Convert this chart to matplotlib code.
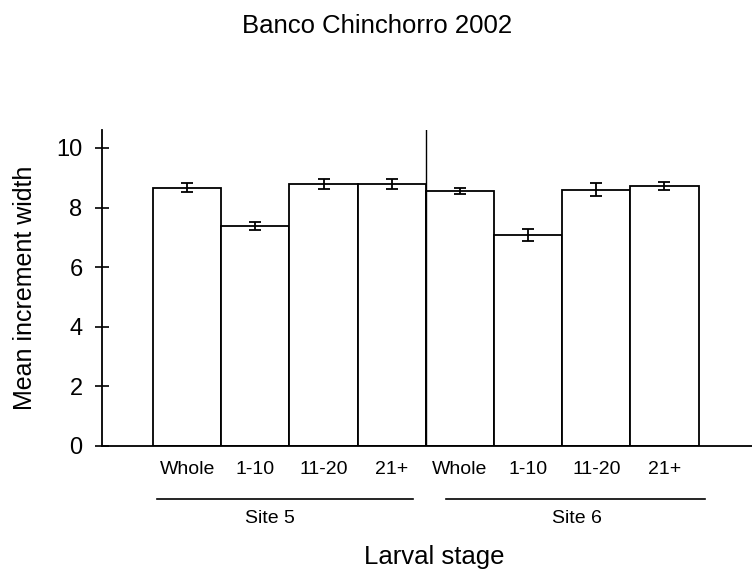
import matplotlib
matplotlib.use("Agg")
import matplotlib.pyplot as plt

plt.rcParams['font.family'] = ['Liberation Sans', 'DejaVu Sans']

# data
stages = ["Whole", "1-10", "11-20", "21+", "Whole", "1-10", "11-20", "21+"]
sites = ["Site 5", "Site 6"]
means = [8.66, 7.38, 8.78, 8.78, 8.56, 7.08, 8.60, 8.72]
errs = [0.15, 0.14, 0.17, 0.17, 0.11, 0.21, 0.21, 0.13]

fig = plt.figure(figsize=(7.52, 5.83), dpi=100)
ax = fig.add_axes([0.1356, 0.235, 0.864, 0.542])

x = list(range(len(means)))
ax.bar(x, means, width=1.0, color="white", edgecolor="black", linewidth=1.3)
ax.errorbar(x, means, yerr=errs, fmt="none", ecolor="black", elinewidth=1.3,
            capsize=4.5, capthick=1.3)

# divider between the two sites
ax.axvline(3.5, color="black", linewidth=1.0)

ax.set_xlim(-1.25, 8.28)
ax.set_ylim(0, 10.6)
ax.set_yticks([0, 2, 4, 6, 8, 10])
ax.set_xticks(x)
ax.set_xticklabels(stages, fontsize=14)
ax.tick_params(axis="x", length=0, pad=11)
ax.tick_params(axis="y", direction="inout", length=10, width=1.2, labelsize=17, pad=9)
for s in ["top", "right"]:
    ax.spines[s].set_visible(False)
ax.spines["left"].set_linewidth(1.3)
ax.spines["bottom"].set_linewidth(1.3)

ax.set_ylabel("Mean increment width", fontsize=18, labelpad=14)

# group underlines and labels
line_spans = [(-0.44, 3.31), (3.79, 7.59)]
label_pos = [1.22, 5.71]
for (lo, hi), xc, name in zip(line_spans, label_pos, sites):
    ax.plot([lo, hi], [-1.78, -1.78], color="black", linewidth=1.2, clip_on=False)
    ax.text(xc, -2.42, name, ha="center", va="center", fontsize=14)

fig.text(0.578, 0.024, "Larval stage", ha="center", va="bottom", fontsize=18.5)
fig.text(0.501, 0.955, "Banco Chinchorro 2002", ha="center", va="center", fontsize=18.5)

fig.savefig("out.png", dpi=100)
